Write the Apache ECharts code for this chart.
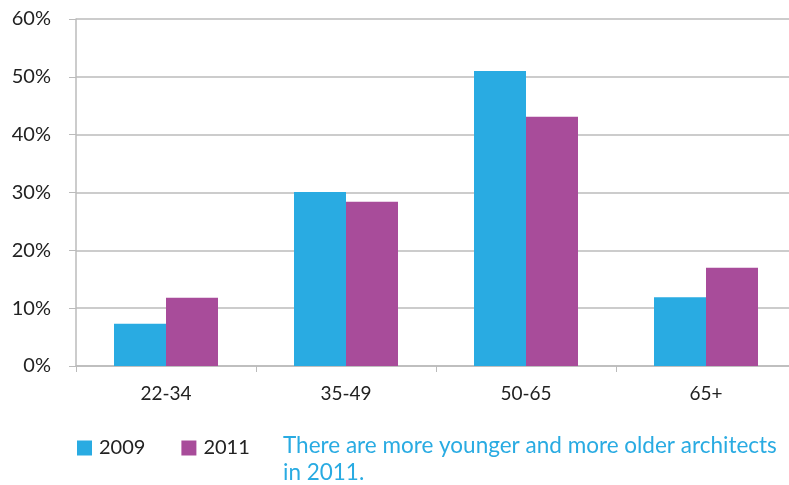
<!DOCTYPE html>
<html><head><meta charset="utf-8">
<script src="https://cdn.jsdelivr.net/npm/echarts@6/dist/echarts.min.js"></script>
<style>html,body{margin:0;padding:0;background:#fff;overflow:hidden}#c{width:800px;height:485px}</style>
</head><body><div id="c"></div>
<script>
const categories = ['22-34', '35-49', '50-65', '65+'];
const series2009 = [7.3, 30.1, 51.0, 11.9];
const series2011 = [11.8, 28.4, 43.1, 17.0];
const yTicks = [0, 10, 20, 30, 40, 50, 60];
const note = 'There are more younger and more older architects\nin 2011.';

const chart = echarts.init(document.getElementById('c'), null, {renderer: 'canvas'});
const font = 'Lato, "Open Sans", sans-serif';
chart.setOption({
  animation: false,
  title: {
    text: note, left: 283, top: 432, padding: 0,
    textStyle: {color: '#29ABE2', fontSize: 22.5, fontWeight: 'normal', fontFamily: font, lineHeight: 27}
  },
  legend: {
    left: 77, top: 438, padding: 0, itemWidth: 15, itemHeight: 15, itemGap: 36,
    icon: 'rect',
    textStyle: {color: '#222', fontSize: 20, fontFamily: font, padding: [0, 0, 0, 2]},
    data: ['2009', '2011']
  },
  grid: {left: 76, right: 4, top: 19, bottom: 119, containLabel: false},
  xAxis: {
    type: 'category', data: categories,
    axisLine: {lineStyle: {color: '#BBBBBB', width: 1.5}},
    axisTick: {show: true, length: 6, lineStyle: {color: '#BBBBBB'}},
    axisLabel: {color: '#222', fontSize: 19, fontFamily: font, margin: 18}
  },
  yAxis: {
    type: 'value', min: yTicks[0], max: yTicks[yTicks.length - 1], interval: 10,
    axisLine: {show: true, lineStyle: {color: '#BBBBBB', width: 1.5}},
    axisTick: {show: true, length: 7, lineStyle: {color: '#BBBBBB'}},
    splitLine: {lineStyle: {color: '#BBBBBB', width: 1.5}},
    axisLabel: {color: '#222', fontSize: 20, fontFamily: font, margin: 25, formatter: '{value}%'}
  },
  series: [
    {name: '2009', type: 'bar', data: series2009, barWidth: 52, barGap: '0%',
     itemStyle: {color: '#29ABE2'}},
    {name: '2011', type: 'bar', data: series2011, barWidth: 52, barGap: '0%',
     itemStyle: {color: '#A84C9A'}}
  ]
});
</script></body></html>
